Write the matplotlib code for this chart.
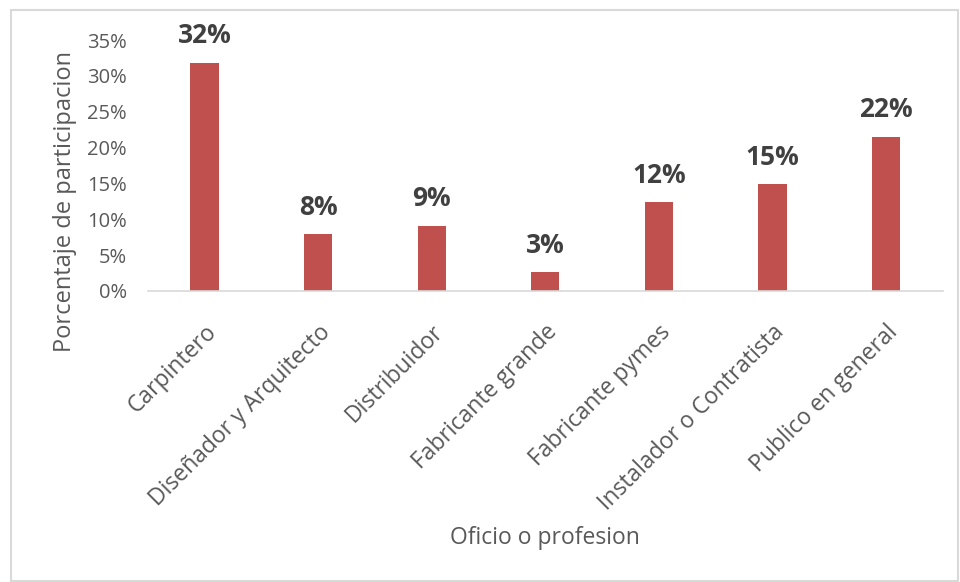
import matplotlib
matplotlib.use("Agg")
from matplotlib import pyplot as plt
from matplotlib.patches import Rectangle
from matplotlib.ticker import PercentFormatter

# data
categorias = ['Carpintero', 'Diseñador y Arquitecto', 'Distribuidor', 'Fabricante grande',
              'Fabricante pymes', 'Instalador o Contratista', 'Publico en general']
valores = [0.318, 0.079, 0.091, 0.026, 0.124, 0.149, 0.215]
etiquetas = ['32%', '8%', '9%', '3%', '12%', '15%', '22%']

plt.rcParams['font.family'] = ['Open Sans', 'DejaVu Sans']

fig = plt.figure(figsize=(9.6, 5.82), dpi=100)
ax = fig.add_axes([0.154, 0.5, 0.828, 0.431])

x = range(len(categorias))
bars = ax.bar(x, valores, width=0.25, color='#c0504d')

for b, t in zip(bars, etiquetas):
    ax.text(b.get_x() + b.get_width() / 2, b.get_height() + 0.019, t,
            ha='center', va='bottom', fontsize=19, fontweight='bold', color='#404040')

ax.set_ylim(0, 0.35)
ax.set_xlim(-0.5, len(categorias) - 0.5)
ax.set_yticks([i * 0.05 for i in range(8)])
ax.yaxis.set_major_formatter(PercentFormatter(1.0, decimals=0))
ax.set_xticks(list(x))
ax.set_xticklabels(categorias, rotation=45, ha='right', rotation_mode='anchor')
ax.tick_params(axis='y', length=0, labelsize=14.5, colors='#595959', pad=15)
ax.tick_params(axis='x', length=0, labelsize=16.5, colors='#595959', pad=21)

for s in ['top', 'right', 'left']:
    ax.spines[s].set_visible(False)
ax.spines['bottom'].set_color('#d9d9d9')
ax.spines['bottom'].set_linewidth(1.2)

# axis titles
fig.text(65 / 960, 1 - 202 / 582, 'Porcentaje de participacion', rotation=90,
         ha='center', va='center', fontsize=17, color='#595959')
fig.text(545 / 960, 1 - 538 / 582, 'Oficio o profesion', ha='center', va='center',
         fontsize=16.5, color='#595959')

fig.patches.append(Rectangle((0.011, 0.002), 0.987, 0.981, transform=fig.transFigure,
                             fill=False, edgecolor='#d9d9d9', linewidth=1.5))

plt.savefig('out.png', dpi=100)
